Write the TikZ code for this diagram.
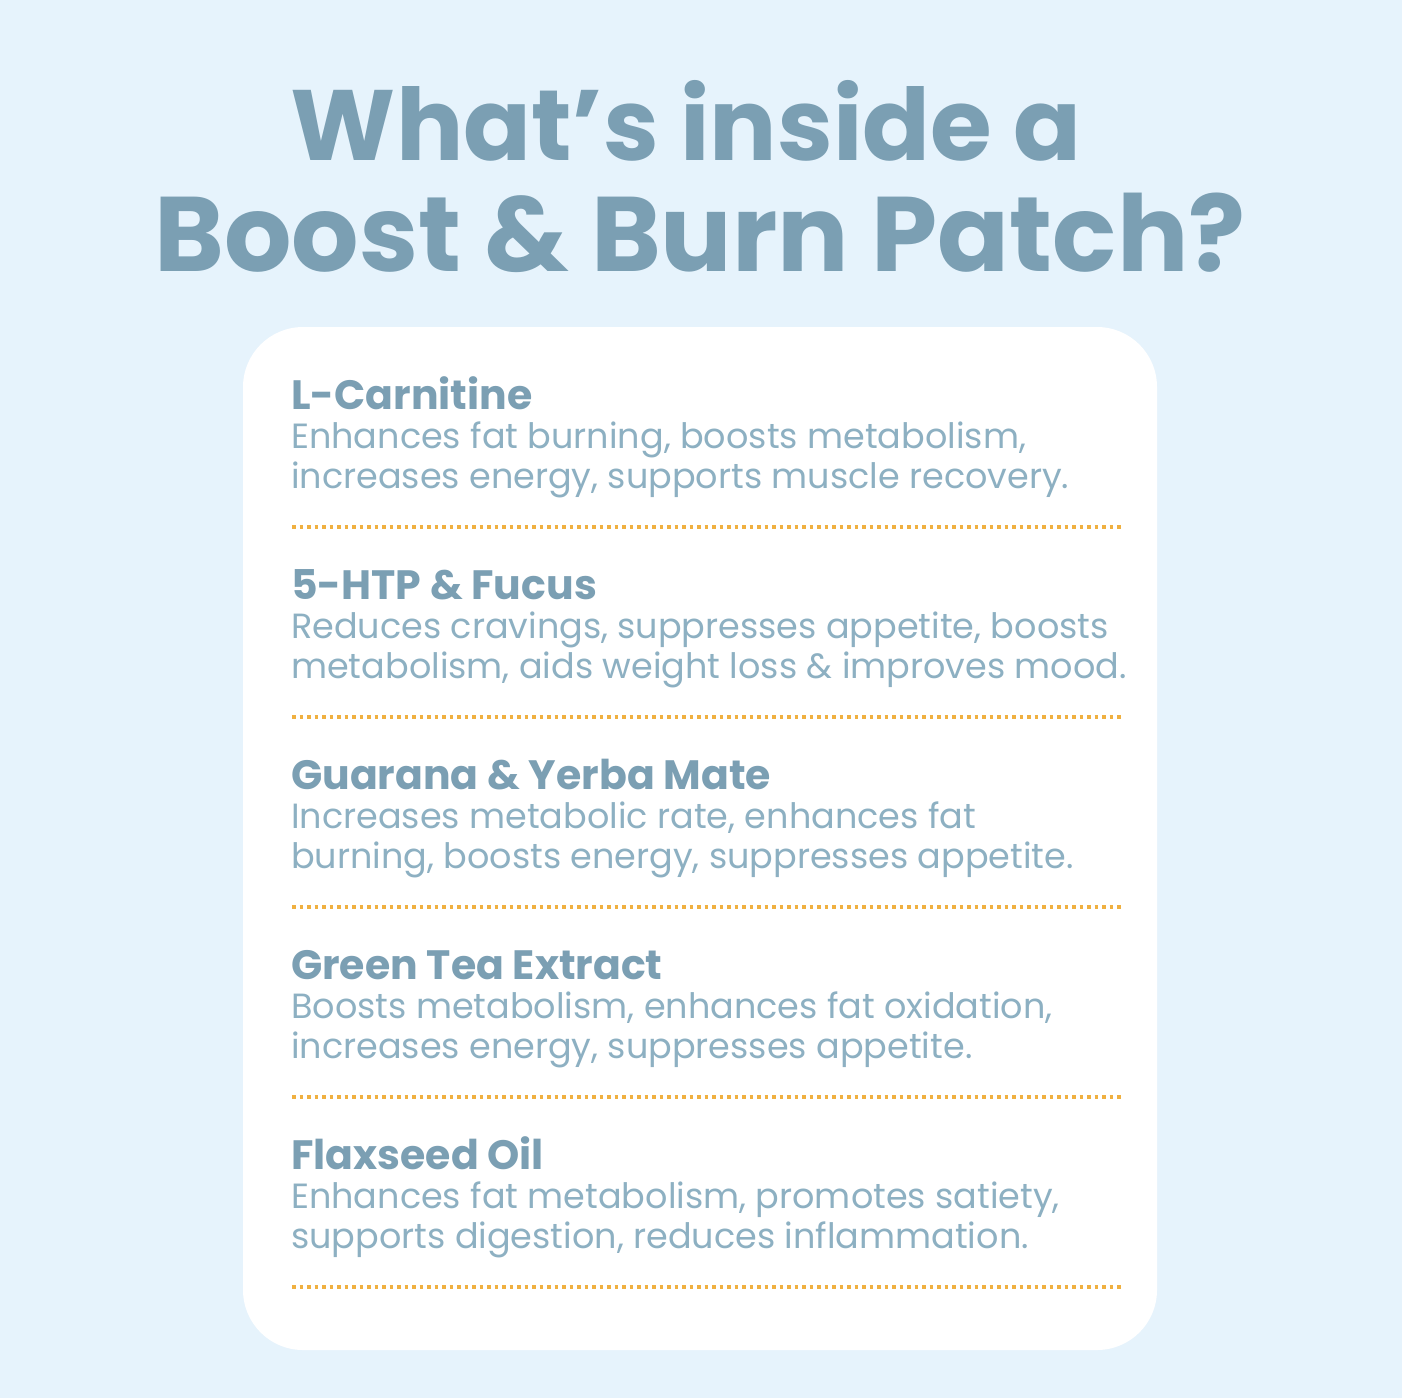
\documentclass[tikz,border=0pt]{standalone}
\usepackage{fontspec}
\setmainfont{Poppins}
\definecolor{bg}{HTML}{E6F3FC}
\definecolor{ttl}{HTML}{7B9FB3}
\definecolor{body}{HTML}{8DB0C2}
\definecolor{dots}{HTML}{F0B040}
\begin{document}
\begin{tikzpicture}[x=1pt,y=-1pt,
  head/.style={anchor=base west,inner sep=0,text=ttl,font=\fontsize{41}{48}\selectfont\bfseries},
  bodytxt/.style={anchor=base west,inner sep=0,text=body,font=\fontsize{35}{40}\selectfont,align=left},
  sep/.style={dots,line width=4.5pt,dash pattern=on 3.5pt off 4pt}]
\fill[bg] (0,0) rectangle (1402,1398);
\useasboundingbox (0,0) rectangle (1402,1398);
\node[anchor=base,text=ttl,font=\fontsize{100}{110}\selectfont\bfseries,inner sep=0] (t1) at (686,160) {What’s inside a};
\node[anchor=base,text=ttl,font=\fontsize{106}{110}\selectfont\bfseries,inner sep=0] (t2) at (700,271) {Boost \& Burn Patch?};
\fill[white,rounded corners=60pt] (243,327) rectangle (1157,1350);
\foreach \i/\h/\a/\b in {
 0/L-Carnitine/{Enhances fat burning, boosts metabolism,}/{increases energy, supports muscle recovery.},
 1/5-HTP \& Fucus/{Reduces cravings, suppresses appetite, boosts}/{metabolism, aids weight loss \& improves mood.},
 2/Guarana \& Yerba Mate/{Increases metabolic rate, enhances fat}/{burning, boosts energy, suppresses appetite.},
 3/Green Tea Extract/{Boosts metabolism, enhances fat oxidation,}/{increases energy, suppresses appetite.},
 4/Flaxseed Oil/{Enhances fat metabolism, promotes satiety,}/{supports digestion, reduces inflammation.}}{
  \node[head] (h\i) at (291,409+190*\i) {\h};
  \node[bodytxt] (a\i) at (291,448+190*\i) {\a};
  \node[bodytxt] (b\i) at (291,488+190*\i) {\b};
  \draw[sep] (292,527+190*\i) -- (1122,527+190*\i);
}
\end{tikzpicture}
\end{document}
